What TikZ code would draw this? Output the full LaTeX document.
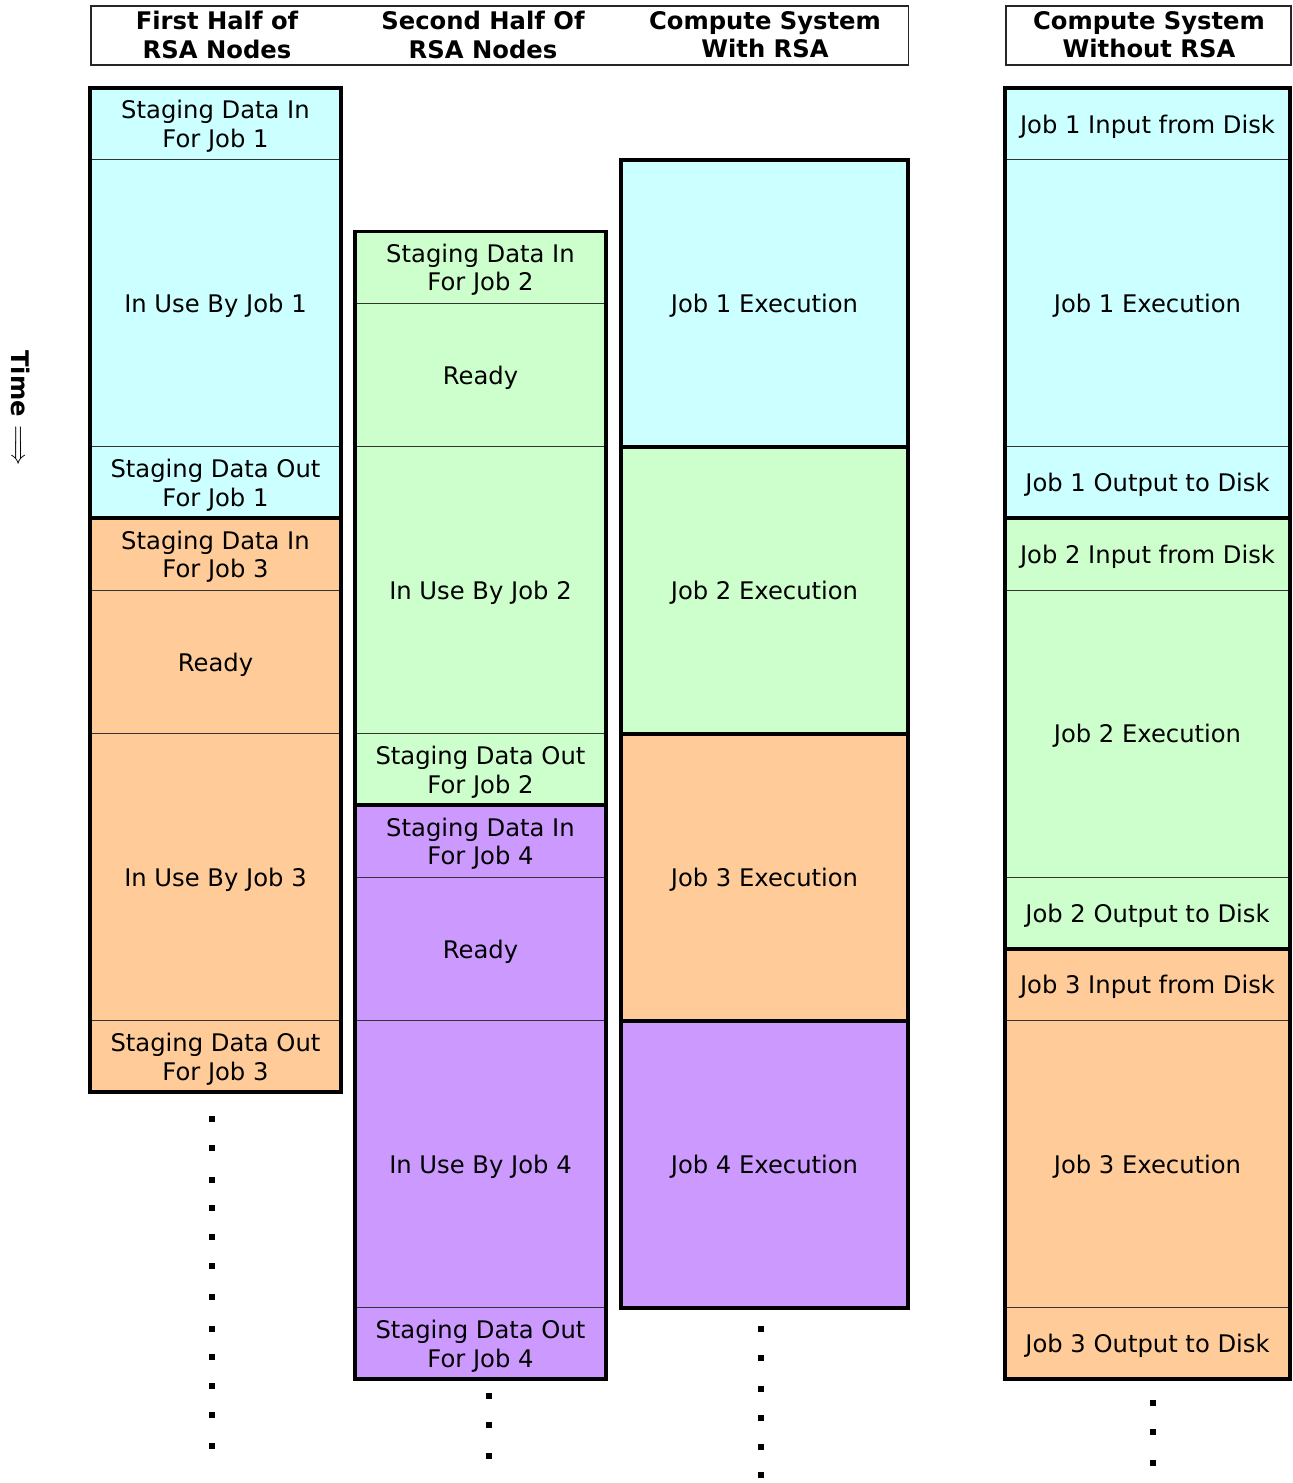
\documentclass[tikz,border=0pt]{standalone}
\usepackage{fontspec}
\setmainfont{DejaVu Sans}
\usetikzlibrary{positioning}

\definecolor{jobone}{HTML}{CCFFFF}
\definecolor{jobtwo}{HTML}{CCFFCC}
\definecolor{jobthree}{HTML}{FFCC99}
\definecolor{jobfour}{HTML}{CC99FF}

\begin{document}
\begin{tikzpicture}[x=0.02cm, y=-0.02cm,
    cell/.style={draw=black!80, line width=0.6pt, inner sep=0pt, outer sep=0pt,
      anchor=north west, align=center, text depth=-1.2pt,
      font=\fontsize{13.8}{16.4}\selectfont},
    short/.style={minimum height=1.435cm},
    mid/.style={minimum height=2.87cm},
    long/.style={minimum height=5.74cm},
    colA/.style={minimum width=5.02cm},
    colC/.style={minimum width=5.74cm},
    colD/.style={minimum width=5.7cm},
    group/.style={draw, line width=2.2pt},
    header/.style={draw=black!85, line width=0.9pt, inner sep=0pt, anchor=north west},
    headtext/.style={align=center, font=\bfseries\fontsize{13.8}{16}\selectfont},
    dot/.style={fill=black}]
  \useasboundingbox (0,0) rectangle (1292,1483);

  % Headers
  \node[header, minimum width=16.36cm, minimum height=1.18cm] (hdrA) at (90,5) {};
  \node[header, minimum width=5.7cm, minimum height=1.18cm] (hdrB) at (1005,5) {};
  \node[headtext] (hfirst) at (217,35) {First Half of\\RSA Nodes};
  \node[headtext] (hsecond) at (483,35) {Second Half Of\\RSA Nodes};
  \node[headtext] (hwith) at (765,35) {Compute System\\With RSA};
  \node[headtext] (hwithout) at (1149,35) {Compute System\\Without RSA};

  % Time axis
  \node[rotate=-90, font=\bfseries\fontsize{13.8}{16}\selectfont] (time) at (21,408) {Time $\Longrightarrow$};

  % First half of RSA nodes
  \node[cell, short, colA, fill=jobone] (a1) at (90,88) {Staging Data In\\For Job 1};
  \node[cell, long, colA, fill=jobone, below=0pt of a1] (a2) {In Use By Job 1};
  \node[cell, short, colA, fill=jobone, below=0pt of a2] (a3) {Staging Data Out\\For Job 1};
  \node[cell, short, colA, fill=jobthree, below=0pt of a3] (a4) {Staging Data In\\For Job 3};
  \node[cell, mid, colA, fill=jobthree, below=0pt of a4] (a5) {Ready};
  \node[cell, long, colA, fill=jobthree, below=0pt of a5] (a6) {In Use By Job 3};
  \node[cell, short, colA, fill=jobthree, below=0pt of a6] (a7) {Staging Data Out\\For Job 3};
  \draw[group] (a1.north west) rectangle (a3.south east);
  \draw[group] (a4.north west) rectangle (a7.south east);

  % Second half of RSA nodes
  \node[cell, short, colA, fill=jobtwo] (b1) at (355,231.5) {Staging Data In\\For Job 2};
  \node[cell, mid, colA, fill=jobtwo, below=0pt of b1] (b2) {Ready};
  \node[cell, long, colA, fill=jobtwo, below=0pt of b2] (b3) {In Use By Job 2};
  \node[cell, short, colA, fill=jobtwo, below=0pt of b3] (b4) {Staging Data Out\\For Job 2};
  \node[cell, short, colA, fill=jobfour, below=0pt of b4] (b5) {Staging Data In\\For Job 4};
  \node[cell, mid, colA, fill=jobfour, below=0pt of b5] (b6) {Ready};
  \node[cell, long, colA, fill=jobfour, below=0pt of b6] (b7) {In Use By Job 4};
  \node[cell, short, colA, fill=jobfour, below=0pt of b7] (b8) {Staging Data Out\\For Job 4};
  \draw[group] (b1.north west) rectangle (b4.south east);
  \draw[group] (b5.north west) rectangle (b8.south east);

  % Compute system with RSA
  \node[cell, long, colC, fill=jobone] (c1) at (621,160) {Job 1 Execution};
  \node[cell, long, colC, fill=jobtwo, below=0pt of c1] (c2) {Job 2 Execution};
  \node[cell, long, colC, fill=jobthree, below=0pt of c2] (c3) {Job 3 Execution};
  \node[cell, long, colC, fill=jobfour, below=0pt of c3] (c4) {Job 4 Execution};
  \foreach \n in {c1, c2, c3, c4}
    \draw[group] (\n.north west) rectangle (\n.south east);

  % Compute system without RSA
  \node[cell, short, colD, fill=jobone] (d1) at (1005,88) {Job 1 Input from Disk};
  \node[cell, long, colD, fill=jobone, below=0pt of d1] (d2) {Job 1 Execution};
  \node[cell, short, colD, fill=jobone, below=0pt of d2] (d3) {Job 1 Output to Disk};
  \node[cell, short, colD, fill=jobtwo, below=0pt of d3] (d4) {Job 2 Input from Disk};
  \node[cell, long, colD, fill=jobtwo, below=0pt of d4] (d5) {Job 2 Execution};
  \node[cell, short, colD, fill=jobtwo, below=0pt of d5] (d6) {Job 2 Output to Disk};
  \node[cell, short, colD, fill=jobthree, below=0pt of d6] (d7) {Job 3 Input from Disk};
  \node[cell, long, colD, fill=jobthree, below=0pt of d7] (d8) {Job 3 Execution};
  \node[cell, short, colD, fill=jobthree, below=0pt of d8] (d9) {Job 3 Output to Disk};
  \draw[group] (d1.north west) rectangle (d3.south east);
  \draw[group] (d4.north west) rectangle (d6.south east);
  \draw[group] (d7.north west) rectangle (d9.south east);

  % Continuation dots
  \foreach \y in {1119,1148,1180,1208,1237,1266,1297,1329,1357,1386,1415,1446}
    \fill[dot] (209,\y-3) rectangle ++(6,6);
  \foreach \y in {1396,1425,1456}
    \fill[dot] (486,\y-3) rectangle ++(6,6);
  \foreach \y in {1329,1358,1389,1418,1447,1475}
    \fill[dot] (758,\y-3) rectangle ++(6,6);
  \foreach \y in {1403,1432,1463}
    \fill[dot] (1150,\y-3) rectangle ++(6,6);
\end{tikzpicture}
\end{document}
